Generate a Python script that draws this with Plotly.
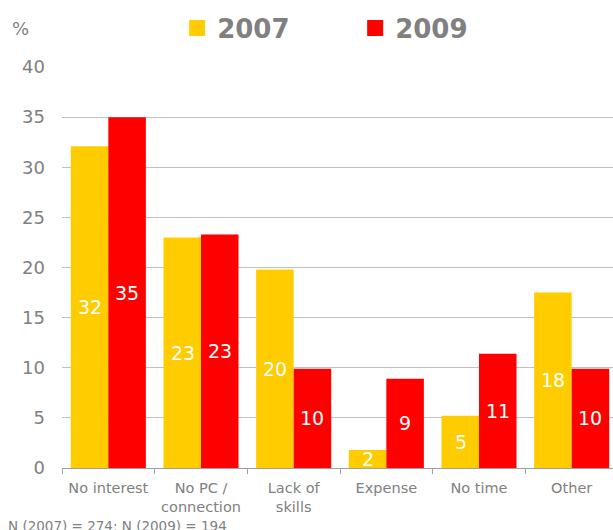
import plotly.graph_objects as go

categories = ["No interest", "No PC /<br>connection", "Lack of<br>skills", "Expense", "No time", "Other"]
values_2007 = [32.1, 23.0, 19.8, 1.8, 5.2, 17.5]
values_2009 = [35.0, 23.3, 9.9, 8.9, 11.4, 9.9]
labels_2007 = ["32", "23", "20", "2", "5", "18"]
labels_2009 = ["35", "23", "10", "9", "11", "10"]
series_names = ["2007", "2009"]
y_ticks = [0, 5, 10, 15, 20, 25, 30, 35, 40]
footnote = "N (2007) = 274; N (2009) = 194"

FONT = "DejaVu Sans"
GRAY = "#808080"
YELLOW = "#FFCC00"
RED = "#FF0000"
colors = [YELLOW, RED]

fig = go.Figure()
for name, vals, col in zip(series_names, [values_2007, values_2009], colors):
    fig.add_trace(go.Bar(x=categories, y=vals, name=name, marker_color=col,
                         marker_line_width=0, hoverinfo="skip", showlegend=False))
# legend-only entries with larger square symbols
for name, col in zip(series_names, colors):
    fig.add_trace(go.Scatter(x=[None], y=[None], mode="markers", name=name,
                             marker=dict(symbol="square", size=16, color=col),
                             showlegend=True, hoverinfo="skip"))

annotations = []
for cat, v, lab in zip(categories, values_2007, labels_2007):
    annotations.append(dict(x=cat, y=v / 2, text=lab, showarrow=False, xref="x", yref="y",
                            xshift=-18.5, yanchor="middle",
                            font=dict(family=FONT, size=19, color="white")))
for cat, v, lab in zip(categories, values_2009, labels_2009):
    annotations.append(dict(x=cat, y=v / 2, text=lab, showarrow=False, xref="x", yref="y",
                            xshift=18.5, yanchor="middle",
                            font=dict(family=FONT, size=19, color="white")))
annotations.append(dict(x=0, y=1, xref="paper", yref="paper", xshift=-52, yshift=39,
                        text="%", showarrow=False, xanchor="left", yanchor="middle",
                        font=dict(family=FONT, size=18, color=GRAY)))
annotations.append(dict(x=0, y=0, xref="paper", yref="paper", xshift=-56, yshift=-58,
                        text=footnote, showarrow=False, xanchor="left", yanchor="middle",
                        font=dict(family=FONT, size=13.5, color=GRAY)))

fig.update_layout(
    width=613, height=530,
    margin=dict(l=62, r=0, t=67, b=62, autoexpand=False),
    paper_bgcolor="white", plot_bgcolor="white",
    barmode="group", bargap=0.19, bargroupgap=0,
    showlegend=True,
    legend=dict(orientation="h", x=0.209, y=1.097, xanchor="left", yanchor="middle",
                font=dict(family=FONT, size=26, color=GRAY, weight="bold"),
                entrywidth=133, traceorder="normal", itemsizing="trace"),
    annotations=annotations,
    font=dict(family=FONT, color=GRAY),
)
fig.update_xaxes(range=[-0.5, 5.446], automargin=False, showline=True, linecolor="#a0a0a0",
                 linewidth=1, ticks="outside", tickson="boundaries", ticklen=5,
                 tickcolor="#a0a0a0", ticklabelstandoff=7,
                 tickfont=dict(family=FONT, size=14.5, color=GRAY), showgrid=False)
fig.update_yaxes(range=[0, 40], tickvals=y_ticks, automargin=False, showgrid=True,
                 gridcolor="#c0c0c0", gridwidth=1, zeroline=False, showline=False, ticks="",
                 ticklabelstandoff=16,
                 tickfont=dict(family=FONT, size=18, color=GRAY))

fig.write_html("out.html", config={"displayModeBar": False},
               post_script="document.body.style.margin='0';document.body.style.overflow='hidden';")
